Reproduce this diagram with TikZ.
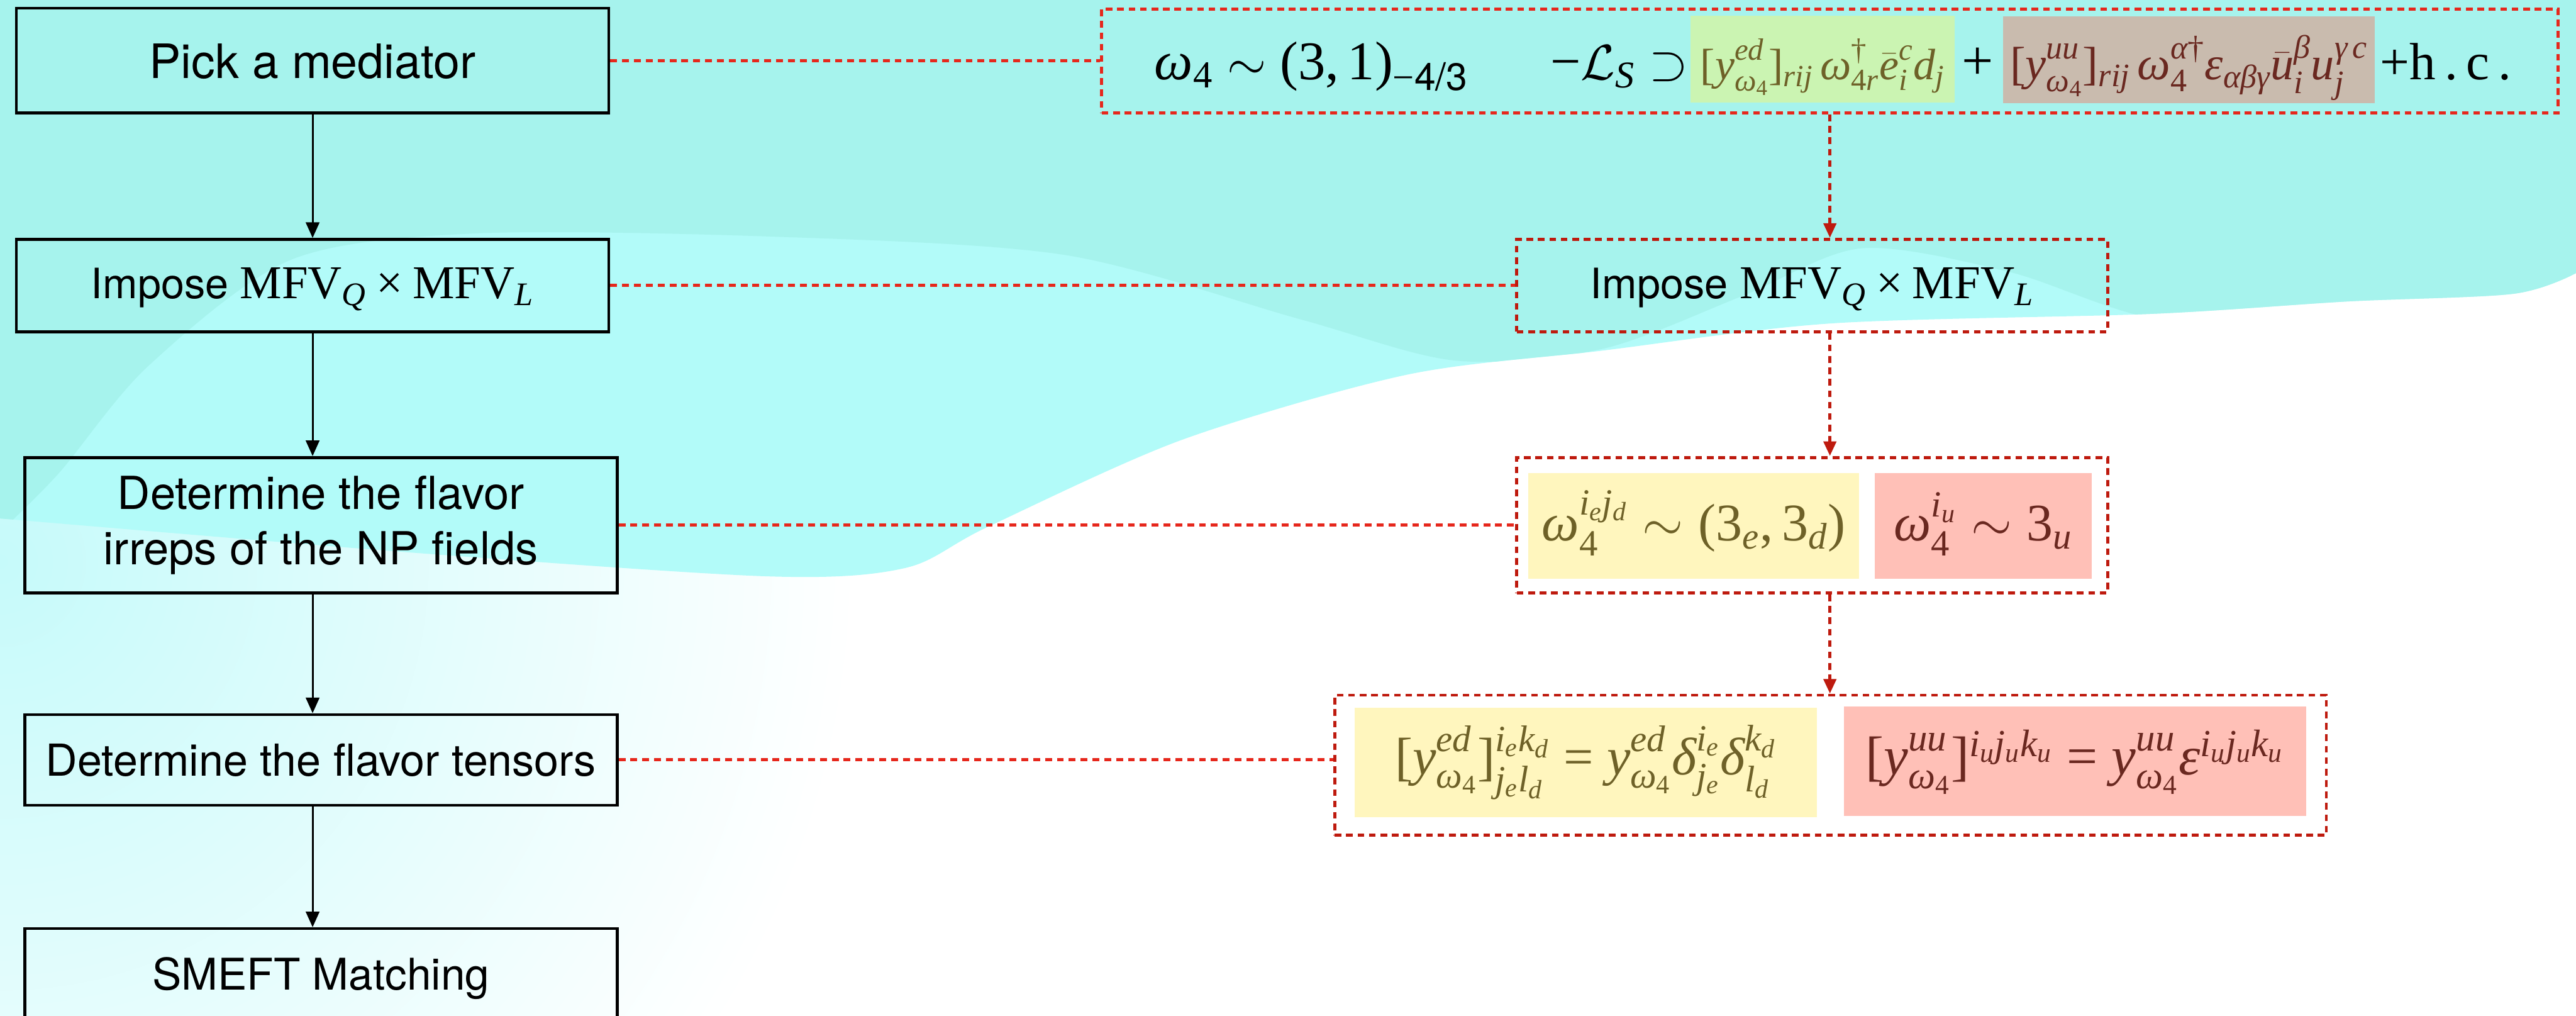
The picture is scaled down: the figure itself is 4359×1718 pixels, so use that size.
\documentclass[tikz,border=0pt]{standalone}
\usepackage{amsmath}
\usepackage[no-math]{fontspec}
\setmainfont{TeX Gyre Heros}
\newfontfamily\libserif{Liberation Serif}[NFSSFamily=libs]
\DeclareSymbolFont{lsit}{TU}{libs}{m}{it}
\DeclareSymbolFont{lsrm}{TU}{libs}{m}{n}
\makeatletter
\count@=`a
\loop \Umathcode\count@ = 7 \symlsit \count@ \ifnum\count@<`z \advance\count@ 1 \repeat
\count@=`A
\loop \Umathcode\count@ = 7 \symlsit \count@ \ifnum\count@<`Z \advance\count@ 1 \repeat
\count@=`0
\loop \Umathcode\count@ = 7 \symlsrm \count@ \ifnum\count@<`9 \advance\count@ 1 \repeat
\makeatother
\Umathcode`( = 4 \symlsrm `(
\Umathcode`) = 5 \symlsrm `)
\Umathcode`[ = 4 \symlsrm `[
\Umathcode`] = 5 \symlsrm `]
\Umathcode`, = 6 \symlsrm `,
\Umathcode`+ = 2 \symlsrm `+
\Umathcode`= = 3 \symlsrm `=
\Umathcode`- = 2 \symlsrm "2212
\Umathchardef\times = 2 \symlsrm "00D7
\Umathchardef\dagger = 0 \symlsrm "2020
\Umathchardef\omega = 0 \symlsit "03C9
\Umathchardef\alpha = 0 \symlsit "03B1
\Umathchardef\beta = 0 \symlsit "03B2
\Umathchardef\gamma = 0 \symlsit "03B3
\Umathchardef\delta = 0 \symlsit "03B4
\Umathchardef\varepsilon = 0 \symlsit "03B5
\usetikzlibrary{arrows.meta,calc}
\definecolor{cyanD}{HTML}{A6F3ED}
\definecolor{cyanL}{HTML}{B2FBF9}
\definecolor{cyanP}{HTML}{C6FAFA}
\definecolor{redB}{HTML}{E6271C}
\definecolor{redD}{HTML}{BE1A0E}
\definecolor{yelBG}{HTML}{FFF6BE}
\definecolor{pinkBG}{HTML}{FFC0B7}
\definecolor{grnBG}{HTML}{CBF4B2}
\definecolor{brnBG}{HTML}{C9BBAE}
\definecolor{txtOl}{HTML}{6E6128}
\definecolor{txtMr}{HTML}{6A2820}
\newcommand\rzw[2]{\resizebox{#1}{!}{#2}}
\newcommand\sr[1]{\text{\libserif #1}}
\newcommand\bs[1]{{#1\mathstrut}}
\begin{document}
\begin{tikzpicture}[x=0.01cm, y=-0.01cm,
  flow/.style={draw=black, line width=1.4pt, inner xsep=0pt, inner ysep=0pt, minimum width=10.02cm, align=center},
  frameR/.style={draw=redD, line width=1.5pt, dash pattern=on 3.2pt off 2.3pt, inner sep=0pt},
  frameB/.style={draw=redB, line width=1.5pt, dash pattern=on 3.2pt off 2.3pt, inner sep=0pt},
  dotR/.style={draw=redB, line width=1.5pt, dash pattern=on 3.3pt off 2.4pt},
  arrK/.style={draw=black, line width=0.9pt, -{Triangle[length=7.5pt,width=6.5pt]}},
  arrR/.style={draw=redD, line width=1.5pt, dash pattern=on 3.2pt off 2.3pt, -{Triangle[length=7pt,width=6pt]}},
  hl/.style={inner xsep=0pt, inner ysep=0pt, anchor=base},
  mth/.style={inner sep=0pt, font=\fontsize{27}{32}\selectfont}
]
\useasboundingbox (0,0) rectangle (4359,1718);
% ---------- background ----------
\fill[white] (0,0) rectangle (4359,1718);
\shade[inner color=cyanP, outer color=white] (0,950) circle (1450);
\fill[cyanL] plot[smooth] coordinates {(0,877) (700,935) (1300,975) (1531,961) (1672,891) (2000,744) (2380,634) (2712,593) (3100,547) (3639,531) (3971,510) (4253,497) (4359,462)} -- (4359,0) -- (0,0) -- cycle;
\begin{scope}
\clip plot[smooth] coordinates {(0,877) (700,935) (1300,975) (1531,961) (1672,891) (2000,744) (2380,634) (2712,593) (3100,547) (3639,531) (3971,510) (4253,497) (4359,462)} -- (4359,0) -- (0,0) -- cycle;
\fill[cyanD] plot[smooth] coordinates {(0,900) (100,800) (250,620) (491,440) (800,395) (1300,400) (1800,431) (2200,540) (2463,610) (2712,590) (2950,500) (3150,420) (3400,460) (3650,540) (4000,560) (4359,560)} -- (4359,0) -- (0,0) -- cycle;
\end{scope}
% ---------- left flow ----------
\node[flow, text height=1.19cm, text depth=0.58cm, anchor=base, font=\fontsize{22.8}{27}\selectfont] (b1) at (529,133) {Pick a mediator};
\node[flow, text height=1.00cm, text depth=0.56cm, anchor=base] (b2) at (529,505) {\rzw{7.49cm}{{\fontsize{20}{24}\selectfont Impose }{\fontsize{22.5}{27}\selectfont$\sr{MFV}_Q\times\sr{MFV}_L$}}};
\node[flow, minimum height=2.29cm, font=\fontsize{21.9}{26.5}\selectfont] (b3) at (543,888.5) {Determine the flavor\\irreps of the NP fields};
\node[flow, text height=1.04cm, text depth=0.49cm, anchor=base, font=\fontsize{21.2}{25}\selectfont] (b4) at (543,1313) {Determine the flavor tensors};
\node[flow, text height=1.03cm, text depth=0.51cm, anchor=base, font=\fontsize{21}{25}\selectfont] (b5) at (543,1674) {SMEFT Matching};
\draw[arrK] (b1.south) -- (b2.north);
\draw[arrK] (b2.south) -- (b2.south |- b3.north);
\draw[arrK] (b2.south |- b3.south) -- (b2.south |- b4.north);
\draw[arrK] (b2.south |- b4.south) -- (b2.south |- b5.north);
% ---------- right side ----------
\node[frameB, minimum width=24.63cm, minimum height=1.76cm] (top) at (3096.5,103) {};
\node[mth, anchor=base west] (m1) at (1953,135) {\rzw{5.31cm}{$\omega_4\sim(3,1)_{-\text{4/3}}$}};
\node[mth, anchor=base west] (m2) at (2623,135) {\rzw{2.32cm}{$-\mathcal{L}_S\supset$}};
\node[hl, fill=grnBG, minimum width=4.46cm, text height=1.08cm, text depth=0.38cm, text=txtOl, font=\fontsize{27}{32}\selectfont] (g1) at (3084,135) {\rzw{4.13cm}{$[\bs{y}^{ed}_{\omega_4}]_{rij}\,\bs{\omega}^{\dagger}_{4r}\bs{\bar{e}}^c_i d_j$}};
\node[mth, anchor=base] (pl) at (3347,135) {$+$};
\node[hl, fill=brnBG, minimum width=6.28cm, text height=1.07cm, text depth=0.39cm, text=txtMr, font=\fontsize{27}{32}\selectfont] (br1) at (3704,135) {\rzw{6.05cm}{$[\bs{y}^{uu}_{\omega_4}]_{rij}\,\bs{\omega}^{\alpha\dagger}_4\varepsilon_{\alpha\beta\gamma}\bs{\bar{u}}^{\beta}_i \bs{u}^{\gamma\,c}_j$}};
\node[mth, anchor=base west] (hc) at (4027,135) {\rzw{2.22cm}{$+\sr{h\,.\,c\,.}$}};
% Impose box
\node[frameR, minimum width=9.99cm, text height=1.00cm, text depth=0.56cm, anchor=base] (imp) at (3066.5,505) {\rzw{7.5cm}{{\fontsize{20}{24}\selectfont Impose }{\fontsize{22.5}{27}\selectfont$\sr{MFV}_Q\times\sr{MFV}_L$}}};
% irreps box
\node[frameR, minimum width=9.99cm, minimum height=2.29cm] (irr) at (3066.5,888.5) {};
\node[hl, fill=yelBG, minimum width=5.60cm, text height=1.15cm, text depth=0.64cm, text=txtOl, font=\fontsize{25}{30}\selectfont] (iy) at (2866,915) {\rzw{5.13cm}{$\bs{\omega}_4^{i_e j_d}\sim(3_e,3_d)$}};
\node[hl, fill=pinkBG, minimum width=3.66cm, text height=1.15cm, text depth=0.64cm, text=txtMr, font=\fontsize{25}{30}\selectfont] (ip) at (3356,915) {\rzw{3.02cm}{$\bs{\omega}_4^{i_u}\sim 3_u$}};
% tensors box
\node[frameR, minimum width=16.77cm, minimum height=2.37cm] (ten) at (3097.5,1294.5) {};
\node[hl, fill=yelBG, minimum width=7.81cm, text height=1.14cm, text depth=0.71cm, text=txtOl, font=\fontsize{27}{32}\selectfont] (ty) at (2683.5,1311) {\rzw{6.45cm}{$[\bs{y}^{ed}_{\omega_4}]^{i_e k_d}_{j_e l_d}=\bs{y}^{ed}_{\omega_4}\bs{\delta}^{i_e}_{j_e}\bs{\delta}^{k_d}_{l_d}$}};
\node[hl, fill=pinkBG, minimum width=7.82cm, text height=1.16cm, text depth=0.69cm, text=txtMr, font=\fontsize{27}{32}\selectfont] (tp) at (3511,1311) {\rzw{7.07cm}{$[\bs{y}^{uu}_{\omega_4}]^{i_u j_u k_u}=\bs{y}^{uu}_{\omega_4}\varepsilon^{i_u j_u k_u}$}};
% ---------- connectors ----------
\draw[dotR] (b1.east) -- (b1.east -| top.west);
\draw[dotR] (b2.east) -- (imp.west);
\draw[dotR] (b3.east) -- (irr.west);
\draw[dotR] (b4.east) -- (b4.east -| ten.west);
\draw[arrR] (top.south) -- (top.south |- imp.north);
\draw[arrR] (top.south |- imp.south) -- (top.south |- irr.north);
\draw[arrR] (top.south |- irr.south) -- (top.south |- ten.north);
\end{tikzpicture}
\end{document}
